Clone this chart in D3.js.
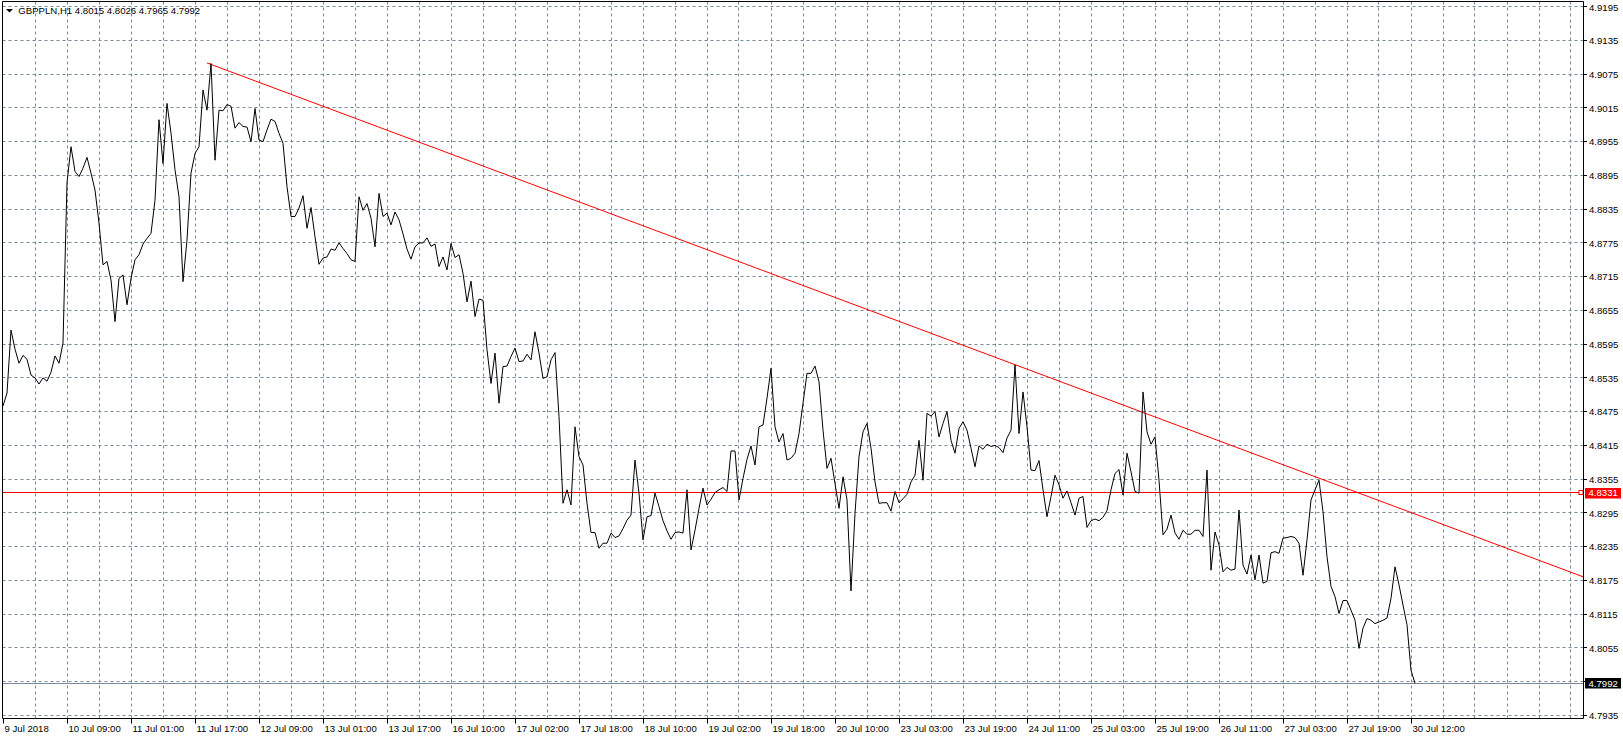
<!DOCTYPE html>
<html><head><meta charset="utf-8">
<script src="https://cdn.jsdelivr.net/npm/d3@7"></script>
<style>
html,body{margin:0;padding:0;background:#fff;}
svg{display:block;}
text{font-family:"Liberation Sans",Arial,sans-serif;}
</style>
</head><body>
<svg id="c" width="1623" height="739"></svg>
<script>
// ---------------- data ----------------
const symbol = "GBPPLN,H1";
const ohlc = [4.8015, 4.8026, 4.7965, 4.7992];

// H1 close prices, one per bar, oldest first
const closes = [
4.8485,4.8508,4.8620,4.8586,4.8561,4.8575,4.8568,4.8540,4.8535,4.8524,
4.8535,4.8529,4.8545,4.8574,4.8561,4.8597,4.8882,4.8946,4.8902,4.8893,
4.8908,4.8927,4.8899,4.8869,4.8810,4.8736,4.8742,4.8709,4.8635,4.8712,
4.8718,4.8665,4.8712,4.8745,4.8754,4.8773,4.8783,4.8792,4.8851,4.8994,
4.8916,4.9023,4.8970,4.8905,4.8857,4.8706,4.8780,4.8899,4.8934,4.8946,
4.9047,4.9011,4.9094,4.8922,4.9011,4.9010,4.9021,4.9018,4.8979,4.8989,
4.8982,4.8981,4.8955,4.9014,4.8958,4.8955,4.8976,4.8995,4.8991,4.8970,
4.8952,4.8875,4.8822,4.8822,4.8837,4.8859,4.8801,4.8838,4.8786,4.8737,
4.8748,4.8750,4.8764,4.8762,4.8775,4.8765,4.8756,4.8745,4.8742,4.8857,
4.8833,4.8845,4.8819,4.8768,4.8863,4.8822,4.8828,4.8807,4.8830,4.8816,
4.8791,4.8764,4.8746,4.8768,4.8775,4.8775,4.8784,4.8769,4.8773,4.8733,
4.8750,4.8727,4.8774,4.8749,4.8754,4.8721,4.8670,4.8707,4.8644,4.8675,
4.8673,4.8585,4.8525,4.8579,4.8490,4.8555,4.8556,4.8573,4.8588,4.8564,
4.8565,4.8577,4.8567,4.8617,4.8579,4.8534,4.8537,4.8567,4.8580,4.8466,
4.8312,4.8336,4.8309,4.8448,4.8395,4.8380,4.8312,4.8260,4.8260,4.8232,
4.8241,4.8241,4.8259,4.8251,4.8254,4.8267,4.8282,4.8291,4.8389,4.8330,
4.8247,4.8288,4.8290,4.8330,4.8306,4.8281,4.8263,4.8248,4.8260,4.8261,
4.8259,4.8336,4.8229,4.8264,4.8303,4.8339,4.8309,4.8319,4.8331,4.8336,
4.8340,4.8333,4.8405,4.8405,4.8318,4.8356,4.8390,4.8414,4.8380,4.8448,
4.8451,4.8499,4.8552,4.8448,4.8421,4.8436,4.8389,4.8392,4.8401,4.8436,
4.8490,4.8543,4.8543,4.8556,4.8528,4.8442,4.8374,4.8392,4.8347,4.8303,
4.8359,4.8318,4.8156,4.8294,4.8395,4.8439,4.8454,4.8410,4.8350,4.8312,
4.8313,4.8313,4.8298,4.8333,4.8313,4.8320,4.8328,4.8350,4.8362,4.8424,
4.8353,4.8472,4.8467,4.8475,4.8430,4.8454,4.8475,4.8424,4.8401,4.8445,
4.8457,4.8442,4.8410,4.8377,4.8414,4.8408,4.8417,4.8413,4.8415,4.8411,
4.8402,4.8428,4.8442,4.8558,4.8436,4.8510,4.8448,4.8371,4.8370,4.8388,
4.8336,4.8288,4.8324,4.8362,4.8345,4.8321,4.8334,4.8313,4.8291,4.8321,
4.8324,4.8269,4.8281,4.8284,4.8281,4.8287,4.8299,4.8336,4.8365,4.8372,
4.8327,4.8401,4.8368,4.8333,4.8330,4.8510,4.8439,4.8417,4.8430,4.8353,
4.8256,4.8266,4.8291,4.8259,4.8248,4.8264,4.8257,4.8257,4.8264,4.8264,
4.8253,4.8371,4.8193,4.8261,4.8238,4.8190,4.8198,4.8193,4.8195,4.8300,
4.8202,4.8186,4.8220,4.8176,4.8220,4.8170,4.8173,4.8224,4.8226,4.8223,
4.8250,4.8251,4.8253,4.8251,4.8241,4.8184,4.8247,4.8318,4.8336,4.8353,
4.8297,4.8217,4.8164,4.8146,4.8116,4.8139,4.8139,4.8122,4.8104,4.8054,
4.8090,4.8107,4.8104,4.8098,4.8101,4.8104,4.8108,4.8143,4.8199,4.8167,
4.8131,4.8096,4.8015,4.7992
];

const timeTickBars = [0,16,32,48,64,80,96,112,128,144,160,176,192,208,224,240,256,272,288,304,320,336,352];
const timeTickLabels = ["9 Jul 2018","10 Jul 09:00","11 Jul 01:00","11 Jul 17:00","12 Jul 09:00","13 Jul 01:00",
  "13 Jul 17:00","16 Jul 10:00","17 Jul 02:00","17 Jul 18:00","18 Jul 10:00","19 Jul 02:00","19 Jul 18:00",
  "20 Jul 10:00","23 Jul 03:00","23 Jul 19:00","24 Jul 11:00","25 Jul 03:00","25 Jul 19:00","26 Jul 11:00",
  "27 Jul 03:00","27 Jul 19:00","30 Jul 12:00"];

const priceTicks = [4.9195,4.9135,4.9075,4.9015,4.8955,4.8895,4.8835,4.8775,4.8715,4.8655,4.8595,
  4.8535,4.8475,4.8415,4.8355,4.8295,4.8235,4.8175,4.8115,4.8055,4.7995,4.7935];
const priceTickLabels = ["4.9195","4.9135","4.9075","4.9015","4.8955","4.8895","4.8835","4.8775","4.8715",
  "4.8655","4.8595","4.8535","4.8475","4.8415","4.8355","4.8295","4.8235","4.8175","4.8115","4.8055","","4.7935"];

const hLineLevel = 4.8331;
const trendBars = [51, 330];
const trendPrices = [4.9095, 4.8354];
const lastBarsShown = 395; // visible bar slots incl. right margin

// ---------------- layout ----------------
const svg = d3.select("#c");
const L = 2.5, R = 1583.5, T = 1.5, B = 718.5;
const gridColor = "#778899";
const snap = v => Math.round(v) + 0.5;

const x = d3.scaleLinear().domain([0, lastBarsShown]).range([3, 1583]);
const y = d3.scaleLinear().domain([4.7935, 4.9195]).range([715.3, 6.7]);

svg.append("rect").attr("width",1623).attr("height",739).attr("fill","#fff");

svg.append("clipPath").attr("id","plot").append("rect")
  .attr("x",L).attr("y",T).attr("width",R-L).attr("height",B-T);

const g = svg.append("g").attr("clip-path","url(#plot)");

// vertical grid (every 8 bars)
const vGrid = d3.range(8, lastBarsShown + 1, 8);
g.selectAll("line.vg").data(vGrid).join("line")
  .attr("x1", d => snap(x(d)-0.5)).attr("x2", d => snap(x(d)-0.5))
  .attr("y1", T).attr("y2", B)
  .attr("stroke", gridColor).attr("stroke-width",1).attr("stroke-dasharray","3,3");

// horizontal grid
g.selectAll("line.hg").data(priceTicks).join("line")
  .attr("x1", L).attr("x2", R)
  .attr("y1", d => snap(y(d)-0.5)).attr("y2", d => snap(y(d)-0.5))
  .attr("stroke", gridColor).attr("stroke-width",1).attr("stroke-dasharray","3,3");

// bid line
g.append("line")
  .attr("x1", L).attr("x2", R)
  .attr("y1", snap(y(ohlc[3]))).attr("y2", snap(y(ohlc[3])))
  .attr("stroke", gridColor).attr("stroke-width",1);

// horizontal red level
g.append("line")
  .attr("x1", L).attr("x2", R)
  .attr("y1", snap(y(hLineLevel)-0.5)).attr("y2", snap(y(hLineLevel)-0.5))
  .attr("stroke", "#ff0000").attr("stroke-width",1);

// trend line (ray)
const tScale = d3.scaleLinear().domain(trendBars).range(trendPrices);
g.append("line")
  .attr("x1", x(trendBars[0])).attr("y1", y(trendPrices[0]))
  .attr("x2", x(lastBarsShown + 5)).attr("y2", y(tScale(lastBarsShown + 5)))
  .attr("stroke", "#ff0000").attr("stroke-width",1);

// price line
const line = d3.line().x((d,i) => x(i)).y(d => y(d));
g.append("path").datum(closes)
  .attr("d", line).attr("fill","none")
  .attr("stroke","#000").attr("stroke-width",1);

// small square at the level line's right end
svg.append("rect")
  .attr("x", snap(x(lastBarsShown)) - 4.5).attr("y", snap(y(hLineLevel)-0.5) - 2)
  .attr("width", 4).attr("height", 4)
  .attr("fill","#fff").attr("stroke","#ff0000").attr("stroke-width",1);

// frame
svg.append("path")
  .attr("d", `M${L},${T}H${R}V${B}H${L}Z`)
  .attr("fill","none").attr("stroke","#000").attr("stroke-width",1);

// right axis ticks + labels
svg.selectAll("line.yt").data(priceTicks).join("line")
  .attr("x1", R).attr("x2", R + 3.5)
  .attr("y1", d => snap(y(d)-0.5)).attr("y2", d => snap(y(d)-0.5))
  .attr("stroke","#000");
svg.selectAll("text.yl").data(priceTicks).join("text")
  .attr("x", 1589).attr("y", d => y(d) + 3.8)
  .attr("font-size", 9.6).attr("fill","#000")
  .text((d,i) => priceTickLabels[i]);

// bottom axis ticks + labels
svg.selectAll("line.xt").data(timeTickBars).join("line")
  .attr("x1", d => snap(x(d)-0.5)).attr("x2", d => snap(x(d)-0.5))
  .attr("y1", B).attr("y2", B + 5)
  .attr("stroke","#000");
svg.selectAll("text.xl").data(timeTickBars).join("text")
  .attr("x", d => x(d) + 1.5).attr("y", 731.5)
  .attr("font-size", 9.6).attr("fill","#000")
  .text((d,i) => timeTickLabels[i]);

// price labels on axis
function priceTag(v, color) {
  const cy = y(v);
  svg.append("rect").attr("x",1585).attr("y", Math.round(cy) - 5)
    .attr("width",36).attr("height",10.5).attr("fill",color);
  svg.append("text").attr("x",1588.5).attr("y", cy + 3.8)
    .attr("font-size",9.6).attr("fill","#fff").text(v.toFixed(4));
}
priceTag(hLineLevel, "#ff0000");
priceTag(ohlc[3], "#000");

// header
svg.append("path").attr("d","M6,9H13L9.5,12.5Z").attr("fill","#000");
svg.append("text").attr("x",18.3).attr("y",14)
  .attr("font-size",9.6).attr("fill","#000")
  .text(symbol + "  " + ohlc.map(v => v.toFixed(4)).join(" "));
</script>
</body></html>
